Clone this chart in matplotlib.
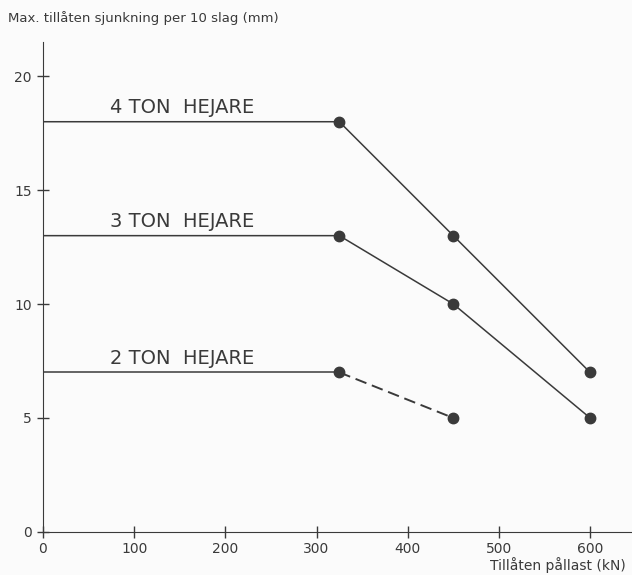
import matplotlib.pyplot as plt

# data
load = [0, 325, 450, 600]
ton4 = [18, 18, 13, 7]
ton3 = [13, 13, 10, 5]
load2 = [0, 325, 450]
ton2 = [7, 7, 5]
labels = ['4 TON  HEJARE', '3 TON  HEJARE', '2 TON  HEJARE']
label_y = [18, 13, 7]

col = '#3a3a3a'
plt.rcParams['font.family'] = ['DejaVu Sans']

fig = plt.figure(figsize=(6.32, 5.75), dpi=100, facecolor='#fbfbfb')
ax = fig.add_axes([0.068, 0.075, 0.932, 0.852])
ax.set_facecolor('#fbfbfb')

# flat part + sloping part
ax.plot(load, ton4, color=col, lw=1.1)
ax.plot(load[1:], ton4[1:], 'o', color=col, ms=7.5)
ax.plot(load, ton3, color=col, lw=1.1)
ax.plot(load[1:], ton3[1:], 'o', color=col, ms=7.5)
ax.plot(load2[:2], ton2[:2], color=col, lw=1.1)
ax.plot(load2[1:], ton2[1:], color=col, lw=1.4, ls=(0, (6, 3)))
ax.plot(load2[1:], ton2[1:], 'o', color=col, ms=7.5)

for lab, yv in zip(labels, label_y):
    ax.text(74, yv + 0.2, lab, fontsize=14, color=col, ha='left', va='bottom')

ax.set_xlim(0, 646)
ax.set_ylim(0, 21.5)
ax.set_xticks([0, 100, 200, 300, 400, 500, 600])
ax.set_yticks([0, 5, 10, 15, 20])
ax.spines['top'].set_visible(False)
ax.spines['right'].set_visible(False)
ax.spines['left'].set_color(col)
ax.spines['bottom'].set_color(col)
ax.tick_params(direction='inout', length=8, width=1, colors=col, labelsize=10)
ax.tick_params(axis='y', pad=4)
ax.tick_params(axis='x', pad=3)

fig.text(0.012, 0.968, 'Max. tillåten sjunkning per 10 slag (mm)', fontsize=9.5,
         color=col, ha='left', va='center')
fig.text(0.99, 0.018, 'Tillåten pållast (kN)', fontsize=10, color=col,
         ha='right', va='center')

fig.savefig('out.png', dpi=100, facecolor=fig.get_facecolor())
